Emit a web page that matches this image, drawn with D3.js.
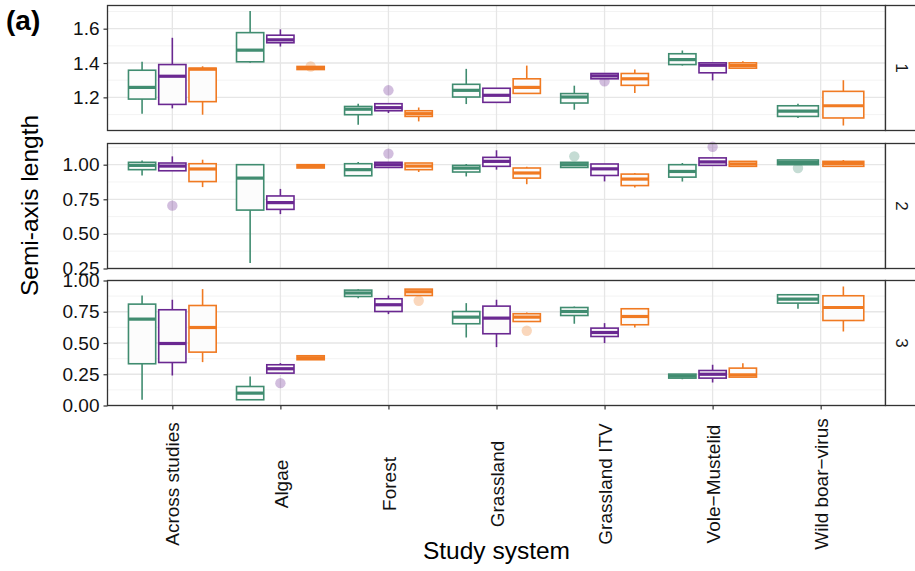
<!DOCTYPE html>
<html><head><meta charset="utf-8">
<script src="https://cdn.jsdelivr.net/npm/d3@7"></script>
<style>body{margin:0;background:#fff}svg{display:block}text{font-family:"Liberation Sans",Arial,sans-serif}</style>
</head><body><svg id="c" width="915" height="571"></svg>
<script>
// ---- data ----
const categories = ["Across studies","Algae","Forest","Grassland","Grassland ITV","Vole\u2212Mustelid","Wild boar\u2212virus"];
const groups = ["g1","g2","g3"];
const groupColors = ["#408C70","#6A2891","#F07A22"];
const panelLabels = ["1","2","3"];
// box stats: [lower whisker, Q1, median, Q3, upper whisker] per category; null = absent
const axis1_g1 = [[1.105,1.19,1.258,1.358,1.407],[1.401,1.407,1.475,1.577,1.703],[1.04,1.099,1.131,1.147,1.163],[1.161,1.202,1.241,1.276,1.366],[1.128,1.167,1.202,1.222,1.268],[1.385,1.391,1.42,1.454,1.473],[1.08,1.089,1.12,1.151,1.163]];
const axis1_g2 = [[1.136,1.159,1.323,1.391,1.547],[1.496,1.518,1.535,1.562,1.596],[1.109,1.122,1.14,1.163,1.165],[1.167,1.171,1.212,1.253,1.253],[1.308,1.308,1.325,1.339,1.339],[1.299,1.343,1.387,1.401,1.401],null];
const axis1_g3 = [[1.099,1.175,1.364,1.37,1.381],[1.362,1.362,1.372,1.38,1.38],[1.06,1.089,1.105,1.122,1.141],[1.223,1.223,1.258,1.308,1.385],[1.226,1.27,1.308,1.339,1.362],[1.37,1.37,1.385,1.401,1.41],[1.036,1.08,1.151,1.235,1.3]];
const axis2_g1 = [[0.922,0.964,0.995,1.017,1.031],[0.289,0.672,0.903,1.0,1.005],[0.92,0.92,0.964,1.007,1.02],[0.915,0.947,0.975,0.995,1.005],[0.98,0.98,1.0,1.017,1.017],[0.878,0.91,0.951,1.0,1.012],[1.0,1.0,1.017,1.034,1.034]];
const axis2_g2 = [[0.956,0.956,0.99,1.012,1.06],[0.643,0.677,0.726,0.774,0.825],[0.98,0.98,1.0,1.017,1.017],[0.964,0.988,1.024,1.053,1.104],[0.879,0.922,0.97,1.005,1.005],[0.995,0.995,1.02,1.049,1.049],null];
const axis2_g3 = [[0.838,0.878,0.969,1.007,1.036],[0.976,0.976,0.988,1.0,1.0],[0.947,0.964,0.99,1.012,1.012],[0.859,0.903,0.94,0.976,0.985],[0.835,0.849,0.896,0.932,0.94],[0.985,0.988,1.005,1.024,1.024],[0.985,0.988,1.007,1.024,1.034]];
const axis3_g1 = [[0.046,0.334,0.691,0.811,0.88],[0.046,0.046,0.099,0.152,0.232],[0.859,0.872,0.9,0.923,0.931],[0.544,0.654,0.707,0.752,0.819],[0.654,0.72,0.752,0.784,0.792],[0.21,0.219,0.235,0.251,0.251],[0.774,0.819,0.851,0.886,0.891]];
const axis3_g2 = [[0.24,0.344,0.496,0.766,0.846],[0.259,0.259,0.294,0.326,0.339],[0.731,0.752,0.806,0.854,0.88],[0.467,0.574,0.699,0.795,0.846],[0.499,0.552,0.584,0.619,0.659],[0.184,0.219,0.25,0.28,0.326],null];
const axis3_g3 = [[0.347,0.427,0.624,0.8,0.931],[0.366,0.366,0.382,0.398,0.398],[0.88,0.88,0.91,0.931,0.931],[0.672,0.672,0.707,0.734,0.744],[0.624,0.646,0.712,0.774,0.78],[0.227,0.227,0.245,0.299,0.339],[0.592,0.68,0.784,0.878,0.952]];
// outliers: [categoryIndex, groupIndex, value]
const axis1_outliers = [[1,2,1.38],[2,1,1.241],[4,1,1.294]];
const axis2_outliers = [[0,1,0.704],[2,1,1.08],[4,0,1.06],[5,1,1.129],[6,0,0.976]];
const axis3_outliers = [[1,1,0.179],[2,2,0.838],[3,2,0.598]];
// axis domains & ticks
const yDomains = [[1.007,1.735],[0.25,1.153],[0.0,1.0]];
const yTicks = [[1.2,1.4,1.6],[0.25,0.5,0.75,1.0],[0,0.25,0.5,0.75,1.0]];
const yMinor = [[1.1,1.3,1.5,1.7],[0.375,0.625,0.875,1.125],[0.125,0.375,0.625,0.875]];
const yFormats = [".1f",".2f",".2f"];

const boxes = [[axis1_g1,axis1_g2,axis1_g3],[axis2_g1,axis2_g2,axis2_g3],[axis3_g1,axis3_g2,axis3_g3]];
const outliers = [axis1_outliers,axis2_outliers,axis3_outliers];

// ---- layout ----
const svg = d3.select("#c");
const L = 107.5, R = 885.5;
const panelTops = [5.5,143.5,280.5], panelH = 125;
const stripW = 34;
const x = d3.scalePoint().domain(categories).range([L,R]).padding(0.6);
const step = x.step();
const dodgeTotal = 0.84*step;
const FONT = "Liberation Sans, Arial, sans-serif";

panelTops.forEach((top,pi)=>{
  const y = d3.scaleLinear().domain(yDomains[pi]).range([top+panelH, top]);
  const g = svg.append("g");
  g.selectAll(".minor").data(yMinor[pi].filter(v=>v>yDomains[pi][0]&&v<yDomains[pi][1])).join("line")
    .attr("x1",L).attr("x2",R).attr("y1",d=>y(d)).attr("y2",d=>y(d)).attr("stroke","#f0f0f0").attr("stroke-width",0.8);
  g.selectAll(".major").data(yTicks[pi]).join("line")
    .attr("x1",L).attr("x2",R).attr("y1",d=>y(d)).attr("y2",d=>y(d)).attr("stroke","#e6e6e6").attr("stroke-width",1.3);
  g.selectAll(".vmajor").data(categories).join("line")
    .attr("x1",d=>x(d)).attr("x2",d=>x(d)).attr("y1",top).attr("y2",top+panelH).attr("stroke","#e6e6e6").attr("stroke-width",1.3);
  categories.forEach((cat,ci)=>{
    const present = groups.map((gr,gi)=>gi).filter(gi=>boxes[pi][gi][ci]);
    const k = present.length, slot = dodgeTotal/k, bw = slot*0.9;
    present.forEach((gi,j)=>{
      const cx = x(cat) - dodgeTotal/2 + slot*(j+0.5);
      const col = groupColors[gi];
      outliers[pi].filter(o=>o[0]===ci&&o[1]===gi).forEach(o=>{
        g.append("circle").attr("cx",cx).attr("cy",y(o[2])).attr("r",5.2).attr("fill",col).attr("fill-opacity",0.3);
      });
      const s = boxes[pi][gi][ci];
      g.append("line").attr("x1",cx).attr("x2",cx).attr("y1",y(s[4])).attr("y2",y(s[3])).attr("stroke",col).attr("stroke-width",1.6);
      g.append("line").attr("x1",cx).attr("x2",cx).attr("y1",y(s[1])).attr("y2",y(s[0])).attr("stroke",col).attr("stroke-width",1.6);
      g.append("rect").attr("x",cx-bw/2).attr("width",bw).attr("y",y(s[3])).attr("height",Math.max(0,y(s[1])-y(s[3])))
        .attr("fill","#fcfcfc").attr("stroke",col).attr("stroke-width",1.6);
      g.append("line").attr("x1",cx-bw/2).attr("x2",cx+bw/2).attr("y1",y(s[2])).attr("y2",y(s[2])).attr("stroke",col).attr("stroke-width",3.2);
    });
  });
  g.append("rect").attr("x",L).attr("y",top).attr("width",R-L).attr("height",panelH).attr("fill","none").attr("stroke","#333").attr("stroke-width",1.3);
  g.append("rect").attr("x",R).attr("y",top).attr("width",stripW).attr("height",panelH).attr("fill","#fff").attr("stroke","#333").attr("stroke-width",1.3);
  g.append("text").attr("transform",`translate(${R+stripW/2-1},${top+panelH/2}) rotate(90)`).attr("text-anchor","middle").attr("dy","0.35em")
    .attr("font-size",17).attr("fill","#1a1a1a").text(panelLabels[pi]);
  const ax = d3.axisLeft(y).tickValues(yTicks[pi]).tickFormat(d3.format(yFormats[pi])).tickSize(4).tickPadding(4);
  const ag = g.append("g").attr("transform",`translate(${L},0)`).call(ax);
  ag.select(".domain").remove();
  ag.selectAll("line").attr("stroke","#333").attr("stroke-width",1.2);
  ag.selectAll("text").attr("font-size",19).attr("fill","#111").attr("font-family",FONT);
  if(pi===2){
    const xa = d3.axisBottom(x).tickSize(4).tickPadding(4);
    const xg = g.append("g").attr("transform",`translate(0,${top+panelH})`).call(xa);
    xg.select(".domain").remove();
    xg.selectAll("line").attr("stroke","#333").attr("stroke-width",1.2);
    xg.selectAll("text").attr("font-size",19).attr("fill","#111").attr("font-family",FONT)
      .attr("text-anchor","middle").attr("transform","rotate(-90)").attr("x",-(484-(top+panelH))).attr("y",0).attr("dy","0.35em");
  }
});

svg.append("text").attr("transform",`translate(37.5,${(panelTops[0]+panelTops[2]+panelH)/2}) rotate(-90)`).attr("text-anchor","middle")
  .attr("font-size",24.5).attr("fill","#000").text("Semi-axis length");
svg.append("text").attr("x",(L+R)/2).attr("y",559).attr("text-anchor","middle").attr("font-size",24.5).attr("fill","#000").text("Study system");
svg.append("text").attr("x",6).attr("y",30).attr("font-size",28).attr("font-weight","bold").attr("fill","#000").text("(a)");
</script></body></html>
